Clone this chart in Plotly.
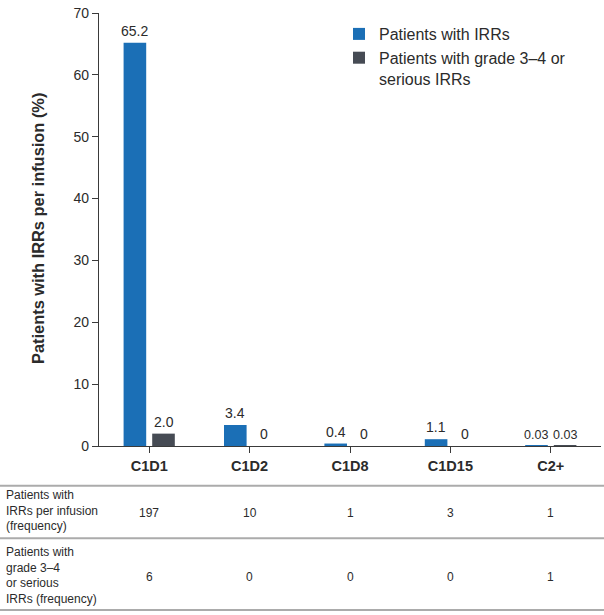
import plotly.graph_objects as go

categories = ["C1D1", "C1D2", "C1D8", "C1D15", "C2+"]
irr_pct = [65.2, 3.4, 0.4, 1.1, 0.03]
serious_pct = [2.0, 0, 0, 0, 0.03]
irr_labels = ["65.2", "3.4", "0.4", "1.1", "0.03"]
serious_labels = ["2.0", "0", "0", "0", "0.03"]
irr_freq = [197, 10, 1, 3, 1]
serious_freq = [6, 0, 0, 0, 1]
y_ticks = [0, 10, 20, 30, 40, 50, 60, 70]
series_names = ["Patients with IRRs", "Patients with grade 3–4 or<br>serious IRRs"]
row_labels = ["Patients with<br>IRRs per infusion<br>(frequency)",
              "Patients with<br>grade 3–4<br>or serious<br>IRRs (frequency)"]
y_title = "Patients with IRRs per infusion (%)"

BLUE = "#1b6fb6"
GREY = "#464b54"
TEXT = "#2b2b2b"
FONT = "Liberation Sans, Arial, sans-serif"

W, H = 604, 615
ML, MR, MT, MB = 99, 3, 13, 169
plot_w = W - ML - MR
plot_h = H - MT - MB
BARGAP = 0.43
BARGROUPGAP = 0.21
cat_px = plot_w / len(categories)
slot_px = (1 - BARGAP) * cat_px / 2


def py(px):
    return (H - MB - px) / plot_h


def pxx(px):
    return (px - ML) / plot_w


fig = go.Figure()
fig.add_trace(go.Bar(x=categories, y=irr_pct, name=series_names[0],
                     marker=dict(color=BLUE, line=dict(width=0))))
fig.add_trace(go.Bar(x=categories, y=serious_pct, name=series_names[1],
                     marker=dict(color=GREY, line=dict(width=0))))

annotations = []
for vals, labs, sign in ((irr_pct, irr_labels, -1), (serious_pct, serious_labels, 1)):
    for c, v, t in zip(categories, vals, labs):
        annotations.append(dict(x=c, y=v, xref="x", yref="y", text=t, showarrow=False,
                                xanchor="center", yanchor="bottom", yshift=2,
                                xshift=sign * slot_px / 2,
                                font=dict(size=14 if len(t) <= 3 else (12.5 if v < 1 else 14),
                                          color=TEXT, family=FONT)))

# y-axis title
annotations.append(dict(x=pxx(38), y=py(229), xref="paper", yref="paper", text="<b>%s</b>" % y_title,
                        textangle=-90, showarrow=False, xanchor="center", yanchor="middle",
                        font=dict(size=16.4, color=TEXT, family=FONT)))

# table below chart
row_centers = [510.5, 575]
value_centers = [512.7, 576.7]
for lab, yc in zip(row_labels, row_centers):
    annotations.append(dict(x=pxx(4), y=py(yc), xref="paper", yref="paper", text=lab,
                            showarrow=False, xanchor="left", yanchor="middle", align="left",
                            font=dict(size=12, color=TEXT, family=FONT)))
for freqs, yc in zip((irr_freq, serious_freq), value_centers):
    for c, f in zip(categories, freqs):
        annotations.append(dict(x=c, y=py(yc), xref="x", yref="paper", text=str(f),
                                showarrow=False, xanchor="center", yanchor="middle",
                                font=dict(size=12, color=TEXT, family=FONT)))

shapes = []
for ypx in (485.7, 538.3, 610):
    shapes.append(dict(type="line", xref="paper", yref="paper", x0=pxx(0), x1=pxx(W),
                       y0=py(ypx), y1=py(ypx), line=dict(color="#ababab", width=2)))

fig.update_layout(
    width=W, height=H,
    margin=dict(l=ML, r=MR, t=MT, b=MB, pad=0),
    paper_bgcolor="white", plot_bgcolor="white",
    barmode="group", bargap=BARGAP, bargroupgap=BARGROUPGAP,
    font=dict(family=FONT, color=TEXT, size=13),
    showlegend=True,
    legend=dict(x=pxx(339), y=py(17), xanchor="left", yanchor="top",
                font=dict(size=16, color=TEXT, family=FONT),
                bgcolor="rgba(0,0,0,0)", valign="top", tracegroupgap=4),
    xaxis=dict(type="category", showline=True, linecolor="#3a3a3a", linewidth=1.3,
               ticks="outside", ticklen=6, tickcolor="#3a3a3a", tickwidth=1.3,
               tickfont=dict(size=14.5, family=FONT, color=TEXT),
               tickprefix="<b>", ticksuffix="</b>", showgrid=False, zeroline=False),
    yaxis=dict(range=[0, 70], tickvals=y_ticks, showline=True, linecolor="#3a3a3a",
               linewidth=1.3, ticks="outside", ticklen=6, tickcolor="#3a3a3a", tickwidth=1.3,
               tickfont=dict(size=14, family=FONT, color=TEXT),
               showgrid=False, zeroline=False),
    annotations=annotations,
    shapes=shapes,
)

fig.write_html("out.html", config={"displayModeBar": False},
               post_script="document.body.style.margin='0px';document.body.style.overflow='hidden';")
